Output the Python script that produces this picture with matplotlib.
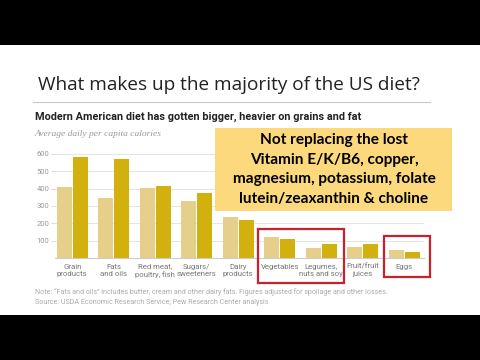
import matplotlib.pyplot as plt
from matplotlib.patches import Rectangle
import numpy as np

categories = ["Grain\nproducts", "Fats\nand oils", "Red meat,\npoultry, fish", "Sugars/\nsweeteners",
              "Dairy\nproducts", "Vegetables", "Legumes,\nnuts and soy", "Fruit/fruit\njuices", "Eggs"]
cal_1970 = [408, 345, 403, 331, 235, 120, 60, 65, 46]
cal_2010 = [582, 574, 416, 374, 220, 112, 83, 79, 35]
yticks = [100, 200, 300, 400, 500, 600]

light = "#e5cf8a"
dark = "#d2b00e"
red = "#c8202c"

fig = plt.figure(figsize=(4.8, 3.6), dpi=100, facecolor="black")
# white slide area between letterbox bars
fig.add_artist(Rectangle((0, 45 / 360), 1, 270 / 360, transform=fig.transFigure,
                         facecolor="white", edgecolor="none", zorder=0))

fig.text(229 / 480, 1 - 85 / 360, "What makes up the majority of the US diet?",
         ha="center", va="center", fontsize=13.7, family="Open Sans", color="#222222")
fig.add_artist(plt.Line2D([33 / 480, 430 / 480], [1 - 102 / 360] * 2, transform=fig.transFigure,
                          color="#c8c8c8", lw=0.8))
fig.text(35 / 480, 1 - 117 / 360, "Modern American diet has gotten bigger, heavier on grains and fat",
         ha="left", va="center", fontsize=7.8, family="Roboto", weight="bold", color="#222222")
fig.text(35 / 480, 1 - 134 / 360, "Average daily per capita calories",
         ha="left", va="center", fontsize=6.8, family="Liberation Serif", style="italic", color="#999999")

ax = fig.add_axes([55 / 480, 1 - 258 / 360, 369 / 480, 104 / 360])
x = np.arange(len(categories))
w = 0.36
ax.bar(x - 0.19, cal_1970, w, color=light, zorder=2)
ax.bar(x + 0.19, cal_2010, w, color=dark, zorder=2)
ax.set_xlim(-0.417, 8.475)
ax.set_ylim(0, 600)
ax.set_yticks(yticks)
ax.set_yticklabels([str(v) for v in yticks], fontsize=5.5, color="#999999", family="Roboto")
ax.yaxis.grid(True, color="#e0e0e0", lw=0.6, zorder=0)
ax.tick_params(axis="y", length=3, color="#dddddd", pad=1)
ax.set_xticks(x)
ax.set_xticklabels(categories, fontsize=5.6, color="#777777", family="Roboto", linespacing=1.3)
ax.tick_params(axis="x", length=0, pad=4)
for s in ["top", "right", "left"]:
    ax.spines[s].set_visible(False)
ax.spines["bottom"].set_color("#cccccc")
ax.spines["bottom"].set_linewidth(0.8)

# red highlight boxes
ax.add_patch(Rectangle((4.47, -143), 2.08, 310, fill=False, edgecolor=red, lw=1.6, clip_on=False, zorder=5))
ax.add_patch(Rectangle((7.51, -111), 1.11, 240, fill=False, edgecolor=red, lw=1.6, clip_on=False, zorder=5))

# yellow callout
fig.add_artist(Rectangle((215 / 480, 1 - 211 / 360), 237 / 480, 83 / 360, transform=fig.transFigure,
                         facecolor="#fcd97c", edgecolor="none", zorder=6))
lines = ["Not replacing the lost", "Vitamin E/K/B6, copper,", "magnesium, potassium, folate",
         "lutein/zeaxanthin & choline"]
for i, t in enumerate(lines):
    fig.text(334 / 480, 1 - (140 + 19.7 * i) / 360, t, ha="center", va="center", fontsize=11.1,
             family="Lato", weight="bold", color="black", zorder=7)

fig.text(35 / 480, 1 - 292 / 360,
         "Note: \u201cFats and oils\u201d includes butter, cream and other dairy fats. Figures adjusted for spoilage and other losses.",
         fontsize=5.1, color="#aaaaaa", family="Roboto", va="center")
fig.text(35 / 480, 1 - 302 / 360, "Source: USDA Economic Research Service; Pew Research Center analysis",
         fontsize=5.1, color="#aaaaaa", family="Roboto", va="center")

fig.savefig("out.png", dpi=100, facecolor="black")
